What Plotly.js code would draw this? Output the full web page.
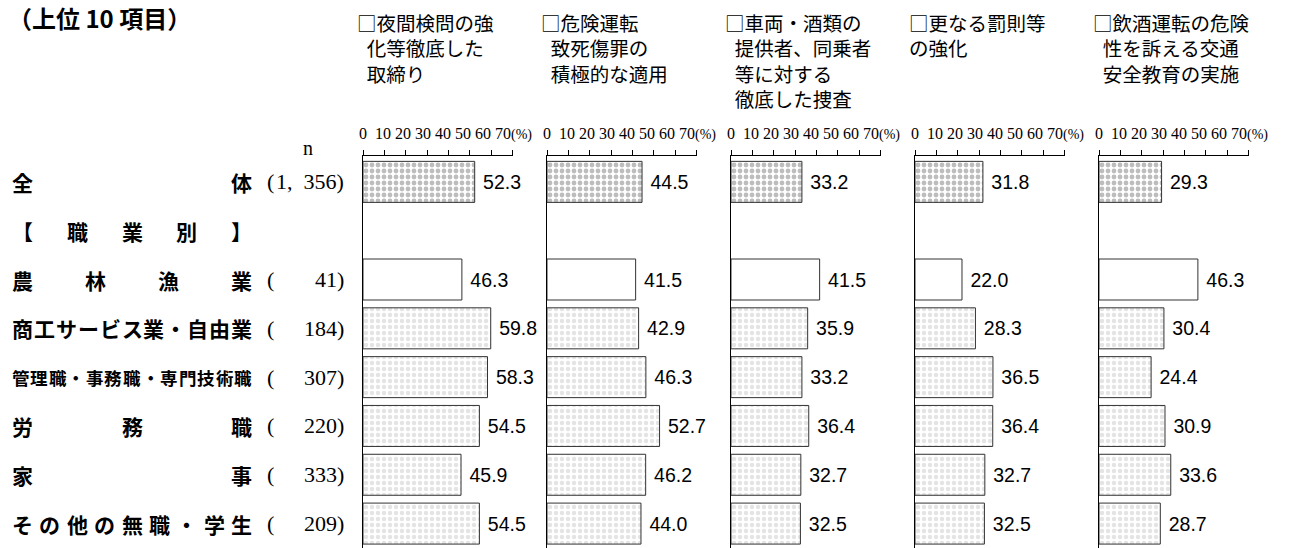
<!DOCTYPE html>
<html>
<head>
<meta charset="utf-8">
<script src="https://cdn.plot.ly/plotly-3.0.1.min.js"></script>
<style>html,body{margin:0;padding:0;background:#fff;}#chart{width:1297px;height:548px;}</style>
</head>
<body>
<div id="chart"></div>
<script>
// ---------- data ----------
const chartTitle = '（上位 10 項目）';
const categories = ['全体', '【職業別】', '農林漁業', '商工サービス業・自由業', '管理職・事務職・専門技術職', '労務職', '家事', 'その他の無職・学生'];
const nValues = ['1,\u2002356', '', '41', '184', '307', '220', '333', '209'];
const panelTitles = [
  ['□夜間検問の強', '化等徹底した', '取締り'],
  ['□危険運転', '致死傷罪の', '積極的な適用'],
  ['□車両・酒類の', '提供者、同乗者', '等に対する', '徹底した捜査'],
  ['□更なる罰則等', 'の強化'],
  ['□飲酒運転の危険', '性を訴える交通', '安全教育の実施']
];
const indentCont = [true, true, true, false, true];
const s1 = [52.3, null, 46.3, 59.8, 58.3, 54.5, 45.9, 54.5];
const s2 = [44.5, null, 41.5, 42.9, 46.3, 52.7, 46.2, 44.0];
const s3 = [33.2, null, 41.5, 35.9, 33.2, 36.4, 32.7, 32.5];
const s4 = [31.8, null, 22.0, 28.3, 36.5, 36.4, 32.7, 32.5];
const s5 = [29.3, null, 46.3, 30.4, 24.4, 30.9, 33.6, 28.7];
const series = [s1, s2, s3, s4, s5];
const tickValues = [0, 10, 20, 30, 40, 50, 60, 70];

// ---------- layout constants ----------
const W = 1297, H = 548, MT = 156, MB = 0;
const PANEL_START = 363, PANEL_PITCH = 184, PANEL_W = 149.5;
const py = Y => (H - MB - Y) / (H - MT - MB);
const px = X => X / W;
const CJK = '"Noto Sans CJK JP", "Noto Sans", sans-serif';
const SERIF = '"Liberation Serif", "DejaVu Serif", serif';
const SANS = '"Liberation Sans", Arial, sans-serif';

const traces = [];
const layout = {
  width: W, height: H,
  margin: {l: 0, r: 0, t: MT, b: MB, pad: 0},
  paper_bgcolor: '#fff', plot_bgcolor: 'rgba(0,0,0,0)',
  showlegend: false,
  annotations: [],
  font: {family: CJK, color: '#000'}
};

// bar styles by row kind
function rowStyle(i) {
  if (i === 0) return {shape: '.', fg: '#1a1a1a', bg: '#bdbdbd', sol: 0.5};
  if (i === 2) return {shape: '', fg: '#ffffff', bg: '#ffffff', sol: 0.3};
  return {shape: '.', fg: '#555555', bg: '#e4e4e4', sol: 0.45};
}
const styles = categories.map((c, i) => rowStyle(i));

series.forEach((vals, p) => {
  const k = p === 0 ? '' : String(p + 1);
  const x0 = PANEL_START + p * PANEL_PITCH;
  traces.push({
    type: 'bar', orientation: 'h',
    x: vals, y: categories,
    xaxis: 'x' + k, yaxis: 'y' + k,
    width: 0.84,
    marker: {
      color: styles.map(s => s.bg),
      line: {color: '#333', width: 1},
      pattern: {
        shape: styles.map(s => s.shape),
        fgcolor: styles.map(s => s.fg),
        bgcolor: styles.map(s => s.bg),
        solidity: styles.map(s => s.sol),
        size: 6,
        fillmode: 'replace'
      }
    },
    text: vals.map(v => v == null ? '' : '\u00a0' + v.toFixed(1)),
    texttemplate: '%{text}',
    textposition: 'outside',
    constraintext: 'none',
    cliponaxis: false,
    textfont: {family: SANS, size: 19.5, color: '#000'},
    hoverinfo: 'skip'
  });
  layout['xaxis' + k] = {
    domain: [px(x0), px(x0 + PANEL_W)],
    range: [0, 70], side: 'top', anchor: 'y' + k,
    showline: true, linecolor: '#000', linewidth: 1,
    ticks: 'outside', ticklen: 5, tickwidth: 1, tickcolor: '#000',
    tickvals: tickValues, showticklabels: false,
    showgrid: false, zeroline: false, fixedrange: true
  };
  layout['yaxis' + k] = {
    domain: [0, 1], anchor: 'x' + k,
    type: 'category', categoryorder: 'array', categoryarray: categories,
    range: [7.5, -0.53],
    showline: true, linecolor: '#000', linewidth: 1,
    showticklabels: false, ticks: '', showgrid: false, zeroline: false, fixedrange: true
  };
  // tick label strip
  layout.annotations.push({
    xref: 'x' + k, yref: 'paper', x: 0, y: py(134), xshift: -6,
    xanchor: 'left', yanchor: 'middle', showarrow: false,
    text: tickValues.map((t, j) => j === 0 ? t + '\u00a0' : String(t)).join(' ') + '<span style="font-size:14px">(%)</span>',
    font: {family: SERIF, size: 16, color: '#000'}
  });
  // panel header (one multi-line block)
  layout.annotations.push({
    xref: 'paper', yref: 'paper',
    x: px(x0 - 8), y: py(6),
    xanchor: 'left', yanchor: 'top', align: 'left', showarrow: false,
    text: panelTitles[p].map((line, j) => (j > 0 && indentCont[p] ? '\u2002' : '') + line).join('<br>'),
    font: {family: CJK, size: 19.5, color: '#000'}
  });
});

// chart title
layout.annotations.push({
  xref: 'paper', yref: 'paper', x: px(6), y: py(17),
  xanchor: 'left', yanchor: 'middle', showarrow: false,
  text: '<b>' + chartTitle + '</b>', font: {family: CJK, size: 24, color: '#000'}
});
// n header
layout.annotations.push({
  xref: 'paper', yref: 'paper', x: px(308), y: py(148),
  xanchor: 'center', yanchor: 'middle', showarrow: false,
  text: 'n', font: {family: SERIF, size: 20, color: '#000'}
});

// row labels (justified characters) and n values
categories.forEach((label, i) => {
  const chars = Array.from(label);
  const small = chars.length > 11;
  const fs = small ? 17.5 : 21;
  const left = 12 + fs / 2, right = 252 - fs / 2;
  chars.forEach((ch, j) => {
    const cx = chars.length === 1 ? left : left + (right - left) * j / (chars.length - 1);
    layout.annotations.push({
      xref: 'paper', yref: 'y', x: px(cx), y: label,
      xanchor: 'center', yanchor: 'middle', showarrow: false,
      text: '<b>' + ch + '</b>', font: {family: CJK, size: fs, color: '#000'}
    });
  });
  if (nValues[i]) {
    layout.annotations.push({
      xref: 'paper', yref: 'y', x: px(265), y: label,
      xanchor: 'left', yanchor: 'middle', showarrow: false,
      text: '(', font: {family: SERIF, size: 22, color: '#000'}
    });
    layout.annotations.push({
      xref: 'paper', yref: 'y', x: px(346), y: label,
      xanchor: 'right', yanchor: 'middle', showarrow: false,
      text: nValues[i] + ')', font: {family: SERIF, size: 22, color: '#000'}
    });
  }
});

Plotly.newPlot('chart', traces, layout, {displayModeBar: false, staticPlot: true});
</script>
</body>
</html>
